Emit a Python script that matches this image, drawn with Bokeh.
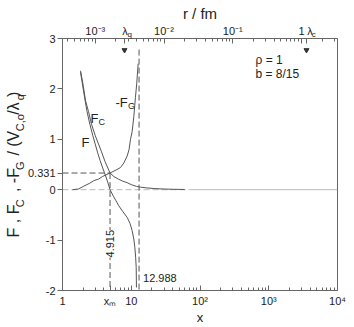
import math
from bokeh.plotting import figure
from bokeh.models import LogAxis, LinearAxis, FixedTicker, Label, Range1d
from bokeh.embed import file_html
from bokeh.resources import INLINE

# ---------------- data ----------------
x_m = 4.915          # zero of F
x_div = 12.988       # divergence of F_G
y_cross = 0.331      # F_C = -F_G at x_m

fc_x = [1.83, 2.0, 2.16, 2.39, 2.64, 3.0, 3.34, 3.7, 4.15, 4.915, 5.6, 6.5, 7.5, 8.7,
        10.0, 12.0, 13.6, 17.0, 22.0, 30.0, 41.0, 60.0]
fc_y = [2.36, 2.07, 1.77, 1.55, 1.30, 1.07, 0.907, 0.75, 0.56, 0.331, 0.26, 0.21, 0.17,
        0.14, 0.10, 0.065, 0.05, 0.035, 0.022, 0.013, 0.008, 0.004]

f_x = [1.83, 2.0, 2.26, 2.5, 2.75, 2.99, 3.25, 3.53, 3.8, 4.08, 4.5, 4.915, 5.5, 6.0,
       6.59, 7.5, 8.73, 9.6, 10.3, 10.9, 11.27, 11.6, 11.8, 11.9]
f_y = [2.33, 2.0, 1.567, 1.30, 1.08, 0.907, 0.73, 0.575, 0.45, 0.337, 0.17, 0.0, -0.13,
       -0.22, -0.32, -0.43, -0.55, -0.67, -0.81, -0.98, -1.14, -1.35, -1.54, -1.94]

gm_x = [1.4, 1.71, 2.04, 2.5, 2.85, 3.34, 3.8, 4.3, 4.915, 5.6, 6.2, 6.98, 7.8, 8.73,
        9.3, 9.75, 10.3, 10.9, 11.5, 12.0, 12.6]
gm_y = [0.0, 0.014, 0.07, 0.13, 0.18, 0.21, 0.26, 0.295, 0.331, 0.37, 0.40, 0.44, 0.53,
        0.67, 0.80, 1.0, 1.15, 1.45, 1.83, 2.1, 2.5]

x_ticks = [1, 10, 100, 1000, 10000]
x_tick_labels = ["1", "10", "10²", "10³", "10⁴"]
y_ticks = [-2, -1, 0, 0.331, 1, 2, 3]
y_tick_labels = ["-2", "-1", "0", "0.331", "1", "2", "3"]
r_ticks = [1e-3, 1e-2, 1e-1, 1.0]
r_tick_labels = ["10⁻³", "10⁻²", "10⁻¹", "1"]
x_per_fm = 3000.0          # x = r / fm * x_per_fm
lambda_q_fm = 2.66e-3
lambda_c_fm = 1.18
rho_text = "ρ = 1"
b_text = "b = 8/15"

FONT = "Liberation Sans"
TXT = "#222222"
LINE = "#555555"
AX = "#666666"

FL, FT, FW, FH = 62, 38, 275, 252

p = figure(frame_width=FW, frame_height=FH, x_axis_type="log",
           x_range=Range1d(1, 1e4), y_range=Range1d(-2, 3),
           output_backend="svg", toolbar_location=None,
           min_border_left=FL, min_border_right=15, min_border_top=FT, min_border_bottom=37)
p.xgrid.visible = False
p.ygrid.visible = False
p.outline_line_color = AX
p.background_fill_color = "white"
p.border_fill_color = "white"


def style(ax, size=11):
    ax.axis_line_color = AX
    ax.major_tick_line_color = AX
    ax.minor_tick_line_color = AX
    ax.major_label_text_font = FONT
    ax.major_label_text_font_size = f"{size}px"
    ax.major_label_text_color = TXT
    ax.axis_label_text_font = FONT
    ax.axis_label_text_font_style = "normal"
    ax.axis_label_text_color = TXT


# spacing helper (unicode fixed-width spaces; they are not collapsed in SVG)
SPACES = [(1.0, "\u2003"), (0.5, "\u2002"), (1 / 3, "\u2004"), (0.25, "\u2005"), (1 / 6, "\u2006")]


def fill(px, size):
    rem = px / size
    out = ""
    for w, ch in SPACES:
        while rem >= w - 1 / 12:
            out += ch
            rem -= w
    return out


# ---------------- bottom axis ----------------
decade_minor = [m * 10 ** k for k in range(0, 4) for m in range(2, 10)]
xa = p.xaxis[0]
style(xa)
xa.ticker = FixedTicker(ticks=x_ticks + [x_m], minor_ticks=decade_minor)
xa.major_label_overrides = {**dict(zip(x_ticks, x_tick_labels)), x_m: "x\u2098"}
xa.major_tick_in = 5
xa.major_tick_out = 0
xa.minor_tick_in = 3
xa.minor_tick_out = 0
xa.major_label_standoff = 4
xa.axis_label = "x"
xa.axis_label_standoff = 0
xa.axis_label_text_font_size = "13px"

# ---------------- left axis + label (subscript row on this axis) ----------------
W = {'F': 0.611, ' ': 0.278, ',': 0.278, '-': 0.333, '/': 0.278, '(': 0.333,
     ')': 0.333, 'V': 0.667, 'λ': 0.556, 'C': 0.722, 'G': 0.778, 'o': 0.556, 'q': 0.556}
pieces = [("F , F", False), ("C", True), (" , -F", False), ("G", True),
          (" / (V", False), ("C,o", True), ("/λ", False), ("q", True), (")", False)]
MAIN, SUB = 16, 11
main_row, sub_row = "", ""
for txt, sub in pieces:
    fs = SUB if sub else MAIN
    wpx = sum(W[c] for c in txt) * fs
    if sub:
        sub_row += txt
        main_row += fill(wpx, MAIN)
    else:
        main_row += txt
        sub_row += fill(wpx, SUB)

ya = p.yaxis[0]
style(ya)
ya.ticker = FixedTicker(ticks=y_ticks, minor_ticks=[])
ya.major_label_overrides = dict(zip(y_ticks, y_tick_labels))
ya.major_tick_in = 0
ya.major_tick_out = 5
ya.major_label_standoff = 2
ya.axis_label = sub_row
ya.axis_label_text_font_size = f"{SUB}px"
ya.axis_label_standoff = -1

ya2 = LinearAxis(ticker=FixedTicker(ticks=[], minor_ticks=[]))
style(ya2)
ya2.axis_line_color = None
ya2.major_tick_line_color = None
ya2.minor_tick_line_color = None
ya2.axis_label = main_row
ya2.axis_label_text_font_size = f"{MAIN}px"
ya2.axis_label_standoff = -11
p.add_layout(ya2, "left")

# ---------------- top axes: inner (ticks + subscripts), outer (labels + title) ----------------
lam_q_x = lambda_q_fm * x_per_fm
lam_c_x = lambda_c_fm * x_per_fm
top_ticks = [round(r * x_per_fm, 6) for r in r_ticks]
top_minor = [round(m * 10 ** k * x_per_fm, 6) for k in range(-4, 1) for m in range(2, 10)]
top_minor = [t for t in top_minor if 1 <= t <= 1e4]

ta = LogAxis(ticker=FixedTicker(ticks=top_ticks + [lam_q_x, lam_c_x], minor_ticks=top_minor))
style(ta, 8)
ta.major_label_overrides = {**{t: "" for t in top_ticks},
                            lam_q_x: fill(10, 8) + "q", lam_c_x: fill(14, 8) + "c"}
ta.major_tick_in = 5
ta.major_tick_out = 0
ta.minor_tick_in = 3
ta.minor_tick_out = 0
ta.major_label_standoff = 0
p.add_layout(ta, "above")

lam_q_lab = 10 ** ((124.5 - FL) / FW * 4)     # label centres (slightly right of the arrows)
lam_c_lab = 10 ** ((309.5 - FL) / FW * 4)
tb = LogAxis(ticker=FixedTicker(ticks=top_ticks + [lam_q_lab, lam_c_lab], minor_ticks=[]))
style(tb)
tb.major_label_overrides = {**dict(zip(top_ticks, r_tick_labels)),
                            lam_q_lab: "λ", lam_c_lab: "λ"}
tb.axis_line_color = None
tb.major_tick_line_color = None
tb.minor_tick_line_color = None
tb.major_tick_in = 0
tb.major_tick_out = 0
tb.major_label_standoff = -10
tb.axis_label = "r / fm"
tb.axis_label_standoff = 0
tb.axis_label_text_font_size = "15px"
p.add_layout(tb, "above")

# ---------------- lines ----------------
p.line([1, 70], [0, 0], line_color="#bbbbbb", line_dash="6 3", line_width=1)
p.line([70, 1e4], [0, 0], line_color="#bbbbbb", line_width=1)
p.line([1, x_m], [y_cross, y_cross], line_color=LINE, line_dash="6 3", line_width=1)
p.line([x_m, x_m], [y_cross, -2], line_color=LINE, line_dash="6 3", line_width=1)
p.line([x_div, x_div], [2.78, -2], line_color=LINE, line_dash="6 3", line_width=1)
p.line(fc_x, fc_y, line_color=LINE, line_width=1)
p.line(f_x, f_y, line_color=LINE, line_width=1)
p.line(gm_x, gm_y, line_color=LINE, line_width=1)

p.scatter([lam_q_x, lam_c_x], [2.77, 2.77], marker="inverted_triangle", size=5,
          fill_color="#333333", line_color="#333333")


def lab(text, x, y, dx=0, dy=0, size=11, angle=0.0, align="left",
        baseline="alphabetic", bg=None):
    l = Label(x=x, y=y, x_offset=dx, y_offset=dy, text=text, text_font=FONT,
              text_font_size=f"{size}px", text_color=TXT, text_align=align,
              text_baseline=baseline, angle=angle)
    if bg is not None:
        l.background_fill_color = bg
    p.add_layout(l)


# ---------------- texts inside the frame ----------------
lab(rho_text, 641, 2.58, size=12)
lab(b_text, 641, 2.30, size=12)

lab("F", 2.55, 1.41, size=13)
lab("C", 2.55, 1.41, dx=8, dy=-3, size=9)
lab("-F", 5.9, 1.726, size=13)
lab("G", 5.9, 1.726, dx=12.5, dy=-3, size=9)
lab("F", 1.89, 0.933, size=13)

lab("4.915", x_m, -1.071, size=11, angle=math.pi / 2, align="center",
    baseline="middle", bg="white")
lab("12.988", x_div, -1.746, dx=4, size=11, baseline="middle")

open("out.html", "w").write(file_html(p, INLINE))
